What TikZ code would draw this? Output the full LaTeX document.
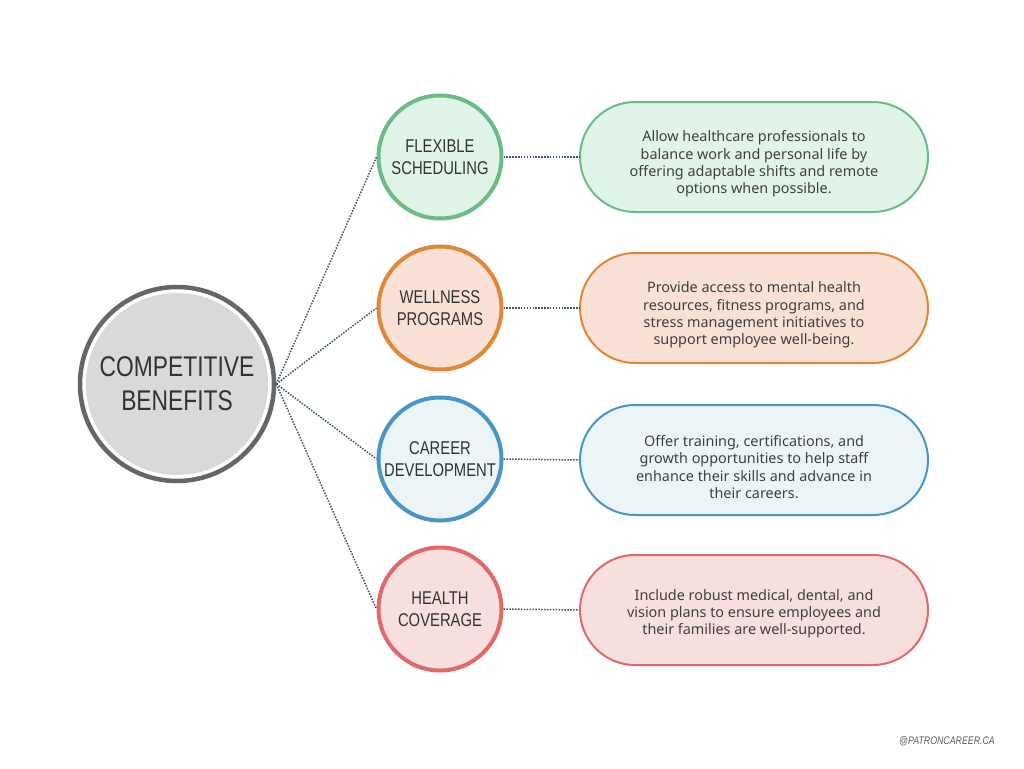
\documentclass[tikz,border=0pt]{standalone}
\usepackage{fontspec}
\setmainfont{Liberation Sans}
\newfontfamily\condfont[FakeStretch=0.8]{Liberation Sans}
\newfontfamily\bodyfont{Noto Sans}
\definecolor{txt}{HTML}{333333}
\definecolor{ptxt}{HTML}{404040}
\definecolor{ringgray}{HTML}{666666}
\definecolor{cfill}{HTML}{D9D9D9}
\definecolor{link}{HTML}{3A566E}
\definecolor{gline}{HTML}{6DBB87}\definecolor{gfill}{HTML}{E0F5E7}
\definecolor{oline}{HTML}{E0883A}\definecolor{ofill}{HTML}{F9E1D5}
\definecolor{bline}{HTML}{4A95C6}\definecolor{bfill}{HTML}{EBF5F8}
\definecolor{rline}{HTML}{E06A6A}\definecolor{rfill}{HTML}{F7DFDE}
\begin{document}
\begin{tikzpicture}[x=1pt,y=-1pt,
  topic/.style={circle, minimum size=123pt, line width=4pt, inner sep=0pt,
    align=center, text=txt, font=\condfont\fontsize{18.5}{22}\selectfont},
  pill/.style={rectangle, rounded corners=55pt, minimum width=348pt, minimum height=110pt,
    line width=2pt},
  ptext/.style={align=center, text=ptxt, font=\bodyfont\fontsize{14.4}{17.2}\selectfont},
  link/.style={draw=link, line width=1.5pt, dash pattern=on 1.5pt off 1.4pt}]
\useasboundingbox (0,0) rectangle (1024,768);
\fill[white] (0,0) rectangle (1024,768);
% central
\fill[cfill] (177,384) circle (91);
\node (c) at (177,384) [circle, draw=ringgray, line width=4.5pt, minimum size=194pt,
  align=center, text=txt, font=\condfont\fontsize{28.5}{34}\selectfont] {COMPETITIVE\\BENEFITS};
% topics
\node (t1) at (440,157) [topic, draw=gline, fill=gfill] {FLEXIBLE\\SCHEDULING};
\node (t2) at (440,308) [topic, draw=oline, fill=ofill] {WELLNESS\\PROGRAMS};
\node (t3) at (440,459) [topic, draw=bline, fill=bfill] {CAREER\\DEVELOPMENT};
\node (t4) at (440,609) [topic, draw=rline, fill=rfill] {HEALTH\\COVERAGE};
% pills
\node (p1) at (754,157) [pill, draw=gline, fill=gfill] {};
\node (p2) at (754,308) [pill, draw=oline, fill=ofill] {};
\node (p3) at (754,460) [pill, draw=bline, fill=bfill] {};
\node (p4) at (754,610) [pill, draw=rline, fill=rfill] {};
\node (x1) at ([yshift=-7pt]p1.center) [ptext] {Allow healthcare professionals to\\balance work and personal life by\\offering adaptable shifts and remote\\options when possible.};
\node (x2) at ([yshift=-7pt]p2.center) [ptext] {Provide access to mental health\\resources, fitness programs, and\\stress management initiatives to\\support employee well-being.};
\node (x3) at ([yshift=-7pt]p3.center) [ptext] {Offer training, certifications, and\\growth opportunities to help staff\\enhance their skills and advance in\\their careers.};
\node (x4) at ([yshift=-4pt]p4.center) [ptext] {Include robust medical, dental, and\\vision plans to ensure employees and\\their families are well-supported.};
% connectors
\foreach \t in {t1,t2,t3,t4} \draw[link] (c.east) -- (\t.west);
\draw[link] (t1.east) -- (p1.west);
\draw[link] (t2.east) -- (p2.west);
\draw[link] (t3.east) -- (p3.west);
\draw[link] (t4.east) -- (p4.west);
% watermark
\node (w) at (947,741) [text=ringgray!90!black, font=\condfont\itshape\fontsize{11}{12}\selectfont] {@PATRONCAREER.CA};
\end{tikzpicture}
\end{document}
